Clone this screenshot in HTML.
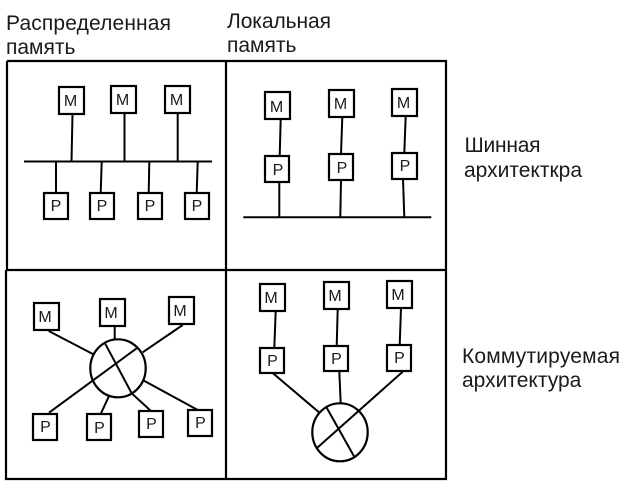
<!DOCTYPE html>
<html><head><meta charset="utf-8">
<style>
html,body{margin:0;padding:0;background:#fff;width:622px;height:482px;overflow:hidden}
svg{display:block}
text{font-family:"Liberation Sans",Arial,sans-serif;fill:#1a1a1a}
.t{font-size:21px}
.b{font-size:16px;text-anchor:middle}
.f{fill:#fff;stroke:#000;stroke-width:2.2}
.l{stroke:#000;stroke-width:2;fill:none}
.g{stroke:#000;stroke-width:2.2;fill:none}
</style></head><body>
<svg width="622" height="482" viewBox="0 0 622 482" xmlns="http://www.w3.org/2000/svg">
<rect width="622" height="482" fill="#fff"/>
<text class="t" x="6" y="30" textLength="165">Распределенная</text>
<text class="t" x="6" y="54">память</text>
<text class="t" x="227" y="28" textLength="104">Локальная</text>
<text class="t" x="227" y="52">память</text>
<text class="t" x="464.5" y="152" textLength="76">Шинная</text>
<text class="t" x="464" y="177" textLength="118">архитекткра</text>
<text class="t" x="462" y="363" textLength="158">Коммутируемая</text>
<text class="t" x="462" y="387">архитектура</text>

<path class="g" d="M7 61H446V270M7 61V270M226 61V479M6 270H446M6 270V479H446V270"/>

<!-- top left -->
<path class="l" d="M24 161.5H212M72.5 114L71.5 161.5M124.5 113V161.5M177.7 113V161.5M56 161.5V193M101.7 161.5L100.7 193M149.3 161.5L148.7 193M197.7 161.5L196.7 193"/>
<rect class="f" x="59" y="87" width="25" height="27"/><text class="b" x="70.5" y="106">М</text>
<rect class="f" x="111" y="86" width="25" height="27"/><text class="b" x="122.5" y="105">М</text>
<rect class="f" x="165" y="86" width="25" height="27"/><text class="b" x="176.5" y="105">М</text>
<rect class="f" x="44" y="193" width="24" height="26"/><text class="b" x="56" y="211">Р</text>
<rect class="f" x="90" y="193" width="24" height="26"/><text class="b" x="102" y="211">Р</text>
<rect class="f" x="138" y="193" width="24" height="26"/><text class="b" x="150" y="211">Р</text>
<rect class="f" x="185" y="193" width="24" height="26"/><text class="b" x="197" y="211">Р</text>

<!-- top right -->
<path class="l" d="M243.3 217.3H431.3M280.7 119L279.7 156M342.3 117L341 154M405.7 116L404.3 153M279.3 182V217M341 180L340.3 217M403 179L404.3 217"/>
<rect class="f" x="265" y="92" width="25" height="27"/><text class="b" x="276.5" y="112">М</text>
<rect class="f" x="329" y="90" width="25" height="27"/><text class="b" x="340.5" y="109">М</text>
<rect class="f" x="392" y="89" width="25" height="27"/><text class="b" x="403.5" y="108">М</text>
<rect class="f" x="265" y="156" width="24" height="26"/><text class="b" x="278" y="175">Р</text>
<rect class="f" x="329" y="154" width="24" height="26"/><text class="b" x="342" y="173">Р</text>
<rect class="f" x="392" y="153" width="25" height="26"/><text class="b" x="405" y="171">Р</text>

<!-- bottom left -->
<ellipse class="g" cx="118" cy="368.3" rx="27.7" ry="29"/>
<path class="l" d="M48.7 331L93.3 354.3M114.7 326V339.3M182.7 325L142.7 352.3M49 412.7L136.7 348.3M105 343.3L131.7 393.3L150.7 410.7M101 413.3L108.7 396.7M144 380.7L197.3 409.7"/>
<rect class="f" x="34" y="303" width="25" height="27"/><text class="b" x="45" y="322">М</text>
<rect class="f" x="100" y="299" width="25" height="27"/><text class="b" x="111" y="318">М</text>
<rect class="f" x="169" y="297" width="25" height="27"/><text class="b" x="180" y="316">М</text>
<rect class="f" x="33" y="414" width="24" height="26"/><text class="b" x="45.5" y="432">Р</text>
<rect class="f" x="87" y="414" width="24" height="26"/><text class="b" x="99.5" y="433">Р</text>
<rect class="f" x="139" y="411" width="24" height="26"/><text class="b" x="151.5" y="429">Р</text>
<rect class="f" x="188" y="410" width="24" height="26"/><text class="b" x="200.5" y="428">Р</text>

<!-- bottom right -->
<ellipse class="g" cx="340" cy="432.3" rx="27.7" ry="29"/>
<path class="l" d="M275.7 311L274.3 348M337.7 309L336.7 346M401 308L399.7 345M272.3 372.7L319 412.3M339.3 371L340.7 403.3M402.7 371.7L316.7 448.3M326.7 407.7L354.3 456.7"/>
<rect class="f" x="260" y="284" width="25" height="27"/><text class="b" x="271" y="303">М</text>
<rect class="f" x="324" y="282" width="25" height="27"/><text class="b" x="335" y="301">М</text>
<rect class="f" x="387" y="281" width="25" height="27"/><text class="b" x="398" y="300">М</text>
<rect class="f" x="260" y="348" width="24" height="25"/><text class="b" x="272.5" y="366">Р</text>
<rect class="f" x="324" y="346" width="24" height="25"/><text class="b" x="336.5" y="364">Р</text>
<rect class="f" x="387" y="345" width="24" height="26"/><text class="b" x="399.5" y="363">Р</text>
</svg>
</body></html>
